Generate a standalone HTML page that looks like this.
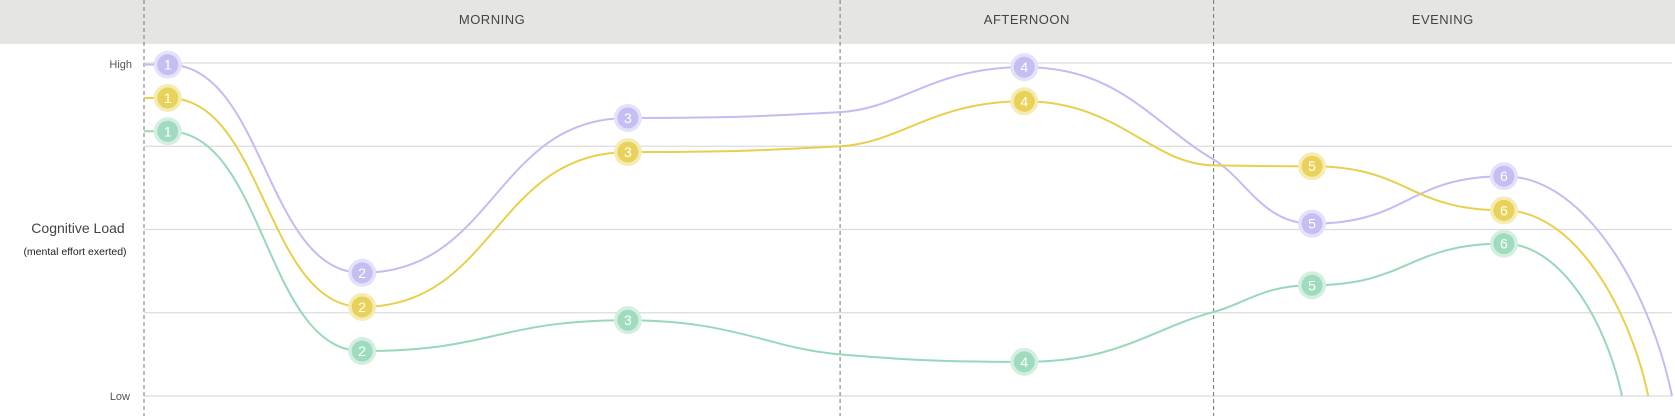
<!DOCTYPE html>
<html><head><meta charset="utf-8">
<style>
html,body{margin:0;padding:0;background:#fff;}
svg{display:block;font-family:"Liberation Sans",sans-serif;}
</style></head>
<body>
<svg id="chart" width="1675" height="416" viewBox="0 0 1675 416" xmlns="http://www.w3.org/2000/svg">
  <rect x="0" y="0" width="1675" height="44" fill="#e5e5e3"/>
  <g id="grid"></g>
  <g id="sections"></g>
  <text x="132" y="68" text-anchor="end" font-size="11" fill="#555">High</text>
  <text x="130" y="400" text-anchor="end" font-size="11" fill="#555">Low</text>
  <text x="78" y="233" text-anchor="middle" font-size="14" fill="#444">Cognitive Load</text>
  <text x="75" y="255" text-anchor="middle" font-size="10.5" fill="#222">(mental effort exerted)</text>
  <g id="series"></g>
</svg>
<script>
const gridValues = [0, 1, 2, 3, 4];
const sectionNames = ["MORNING", "AFTERNOON", "EVENING"];
const sectionBounds = [6, 14.2, 18.6, 24];
const seriesNames = ["purple", "yellow", "green"];
const pointTimes = [6, 6.28, 8.57, 11.7, 14.2, 16.37, 18.6, 19.76, 22.02];
const pointLabels = [null, "1", "2", "3", null, "4", null, "5", "6"];
const purpleValues = [3.98, 3.98, 1.48, 3.34, 3.41, 3.95, 2.84, 2.07, 2.64];
const yellowValues = [3.58, 3.58, 1.07, 2.93, 3.00, 3.54, 2.77, 2.76, 2.23];
const greenValues  = [3.18, 3.18, 0.54, 0.91, 0.50, 0.41, 1.01, 1.33, 1.83];
const endTimes = [24, 23.72, 23.41];
const endValues = [0, 0, 0];

const NS = "http://www.w3.org/2000/svg";
const X0 = 144, X1 = 1672, T0 = 6, T1 = 24;
const Y0 = 396, Y1 = 63, V0 = 0, V1 = 4;
function xs(t){ return X0 + (t - T0) / (T1 - T0) * (X1 - X0); }
function ys(v){ return Y0 - (v - V0) / (V1 - V0) * (Y0 - Y1); }
function mk(tag, attrs, parent){ const e = document.createElementNS(NS, tag); for (const k in attrs) e.setAttribute(k, attrs[k]); parent.appendChild(e); return e; }

const grid = document.getElementById("grid");
gridValues.forEach(v => {
  const l = mk("line", {x1: X0, x2: X1, y1: ys(v), y2: ys(v), stroke: "#dcdcdc", "stroke-width": 1.2}, grid);
  
  
});
const sec = document.getElementById("sections");
sectionBounds.slice(0, 3).forEach((b, i) => {
  const l = mk("line", {x1: xs(b), x2: xs(b), y1: 0, y2: 416, stroke: "#777", "stroke-width": 1, "stroke-dasharray": "4,3"}, sec);
  
  
  const cx = (xs(b) + xs(sectionBounds[i + 1])) / 2;
  const t = mk("text", {x: cx, y: 24, "text-anchor": "middle", "font-size": 13, fill: "#444", "letter-spacing": "0.5"}, sec);
  t.textContent = sectionNames[i];
  
  
});

function curve(pts, flat){
  const n = pts.length; const d = [], m = [];
  for (let i = 0; i < n - 1; i++) d.push((pts[i+1][1] - pts[i][1]) / (pts[i+1][0] - pts[i][0]));
  for (let i = 0; i < n; i++){
    if (flat[i]) { m.push(0); continue; }
    if (i === n - 1) { m.push(null); continue; }
    const a = d[i-1], b = d[i];
    if (a * b <= 0) m.push(0);
    else { const h0 = pts[i][0]-pts[i-1][0], h1 = pts[i+1][0]-pts[i][0]; const p = (a*h1 + b*h0)/(h0+h1);
      m.push((Math.sign(a)+Math.sign(b)) * Math.min(Math.abs(a), Math.abs(b), 0.5*Math.abs(p))); }
  }
  let s = "M" + pts[0][0] + "," + pts[0][1];
  for (let i = 0; i < n - 1; i++){
    const a = pts[i], b = pts[i+1];
    const dx = b[0] - a[0], dy = b[1] - a[1];
    let c1, c2;
    if (flat[i]) c1 = [a[0] + dx*0.5, a[1]];
    else { const h = dx/3; c1 = [a[0] + h, a[1] + m[i]*h]; }
    if (m[i+1] === null) c2 = [b[0] - dx*0.12, b[1] - dy*0.45];
    else if (flat[i+1]) c2 = [b[0] - dx*0.5, b[1]];
    else { const h = dx/3; c2 = [b[0] - h, b[1] - m[i+1]*h]; }
    s += " C" + c1[0] + "," + c1[1] + " " + c2[0] + "," + c2[1] + " " + b[0] + "," + b[1];
  }
  return s;
}

const lineColors = ["#c3bcf3", "#e8cf4c", "#98d8b8"];
const dotColors = ["#c4bef2", "#e8d25a", "#9fdbbf"];
const haloColors = ["#e4e1fa", "#f5ecb4", "#d4efe2"];
const allValues = [purpleValues, yellowValues, greenValues];
const sg = document.getElementById("series");
allValues.forEach((vals, si) => {
  const g = mk("g", {}, sg);
  
  
  const pts = pointTimes.map((t, i) => [xs(t), ys(vals[i])]);
  pts.push([xs(endTimes[si]), ys(endValues[si])]);
  const flat = pointLabels.map((l, i) => i === 0 || !!l);
  flat.push(false);
  const p = mk("path", {d: curve(pts, flat), fill: "none", stroke: lineColors[si], "stroke-width": 2}, g);
  
  
  pointTimes.forEach((t, i) => {
    if (!pointLabels[i]) return;
    const cx = xs(t), cy = ys(vals[i]);
    const mg = mk("g", {}, g);
    
    
    mk("circle", {cx: cx, cy: cy, r: 14, fill: haloColors[si]}, mg);
    mk("circle", {cx: cx, cy: cy, r: 10.5, fill: dotColors[si]}, mg);
    const tx = mk("text", {x: cx, y: cy + 5, "text-anchor": "middle", "font-size": 14, fill: "#fff"}, mg);
    tx.textContent = pointLabels[i];
  });
});
</script>
</body></html>
